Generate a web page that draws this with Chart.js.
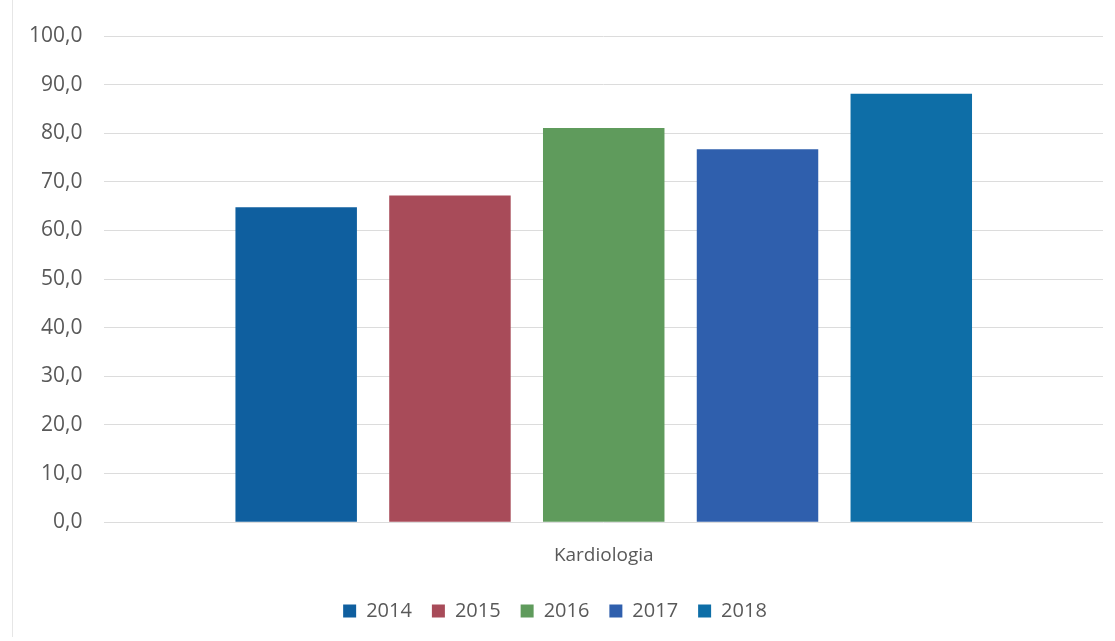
<!DOCTYPE html>
<html>
<head>
<meta charset="utf-8">
<script src="https://cdn.jsdelivr.net/npm/chart.js@4/dist/chart.umd.min.js"></script>
<style>
  html, body { margin: 0; padding: 0; background: #fff; }
  #wrap { position: relative; width: 1115px; height: 641px; }
  #wrap:before { content: ""; position: absolute; left: 12px; top: 0; bottom: 4px; border-left: 1px solid #e6e6e6; }
</style>
</head>
<body>
<div id="wrap"><canvas id="chart" width="1115" height="641"></canvas></div>
<script>
	// data
	var categories = ["Kardiologia"];
	var years = ["2014", "2015", "2016", "2017", "2018"];
	var values = [64.8, 67.2, 81.1, 76.7, 88.1];
	var colors = ["#0f5f9f", "#a84b59", "#5f9b5c", "#2f5fad", "#0e6ea7"];
	var yTicks = [0, 10, 20, 30, 40, 50, 60, 70, 80, 90, 100];

	function buildDatasets(){
		var sets = [];
		for (var i = 0; i < years.length; i++){
			sets.push({
				label: years[i],
				data: [values[i]],
				backgroundColor: colors[i],
				borderWidth: 0,
				categoryPercentage: 0.77,
				barPercentage: 0.79
			});
		}
		return sets;
	}

	Chart.defaults.font.family = "'Open Sans', sans-serif";
	Chart.defaults.color = "#595959";

	new Chart("chart", {
		type: "bar",
		data: {
			labels: categories,
			datasets: buildDatasets()
		},
		options: {
			responsive: false,
			animation: false,
			layout: { padding: { left: 7, right: 12, top: 36, bottom: 10 } },
			scales: {
				x: {
					grid: { display: false },
					border: { display: false },
					ticks: { font: { size: 19 }, padding: 14 }
				},
				y: {
					min: 0,
					max: 100,
					afterBuildTicks: function(axis){
						axis.ticks = yTicks.map(function(v){ return { value: v }; });
					},
					grid: { color: "#dcdcdc", lineWidth: 1, drawTicks: false },
					border: { display: false },
					ticks: {
						font: { size: 21 },
						padding: 22,
						callback: function(v){ return v.toFixed(1).replace(".", ","); }
					}
				}
			},
			plugins: {
				legend: {
					position: "bottom",
					labels: {
						boxWidth: 13,
						boxHeight: 13,
						padding: 20,
						font: { size: 20 }
					}
				},
				tooltip: { enabled: false }
			}
		}
	});
</script>
</body>
</html>
